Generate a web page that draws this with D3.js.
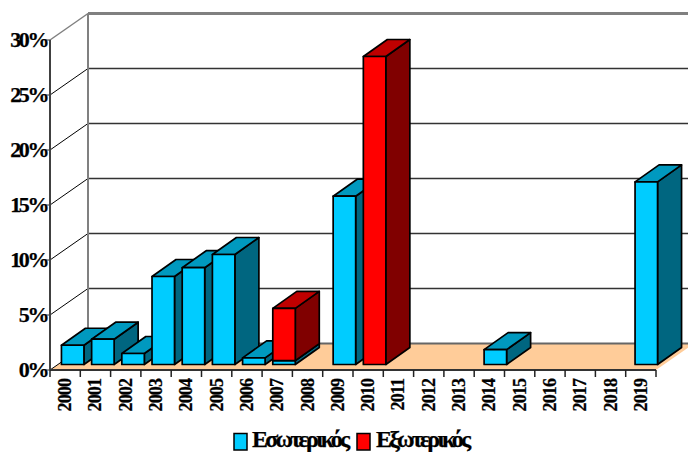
<!DOCTYPE html>
<html><head><meta charset="utf-8">
<script src="https://cdn.jsdelivr.net/npm/d3@7"></script>
<style>html,body{margin:0;padding:0;background:#fff;overflow:hidden}svg{display:block}
text{font-family:"Liberation Serif",serif;font-weight:bold;fill:#000;stroke:#000;stroke-width:.25px}</style>
</head><body><svg id="c" width="688" height="452"></svg>
<script>
const years = ["2000","2001","2002","2003","2004","2005","2006","2007","2008","2009","2010","2011","2012","2013","2014","2015","2016","2017","2018","2019"];
const interior = [1.75,2.3,1.0,8.0,8.8,10.0,0.6,0.35,0,15.3,0,0,0,0,1.35,0,0,0,0,16.6];
const exterior = [0,0,0,0,0,0,0,4.75,0,0,28.0,0,0,0,0,0,0,0,0,0];
const yTicks = [0,5,10,15,20,25,30];
const seriesNames = ["Εσωτερικός","Εξωτερικός"];
const palette = [
  {front:"#00ccff",top:"#0099bf",side:"#006680"},
  {front:"#ff0000",top:"#bf0000",side:"#800000"}
];

const svg = d3.select("#c");
const x = d3.scaleBand().domain(years).range([50,656]);
const xBars = d3.scaleBand().domain(years).range([50,653.8]);
const y = d3.scaleLinear().domain([0,30]).range([370,40]);
const DX = 38, DY = 26.5;            // wall depth
const bw = 22.5, bdx = 24, bdy = 17; // bar width and depth
const ox = 7.6, oy = 5.5;            // bar inset from the front edge
const pts = a => a.map(p=>p.join(",")).join(" ");

// floor
svg.append("polygon").attr("points",pts([[x.range()[0],y(0)],[x.range()[0]+DX,y(0)-DY],[x.range()[1]+DX,y(0)-DY],[x.range()[1],y(0)]]))
  .attr("fill","#ffcc99");

// walls + gridlines
const g = svg.append("g");
yTicks.forEach(t=>{
  const top = t===30, zero = t===0;
  g.append("line").attr("x1",50).attr("y1",y(t)).attr("x2",50+DX).attr("y2",y(t)-DY)
    .attr("stroke",top?"#808080":"#000").attr("stroke-width",top?1.5:1);
  g.append("line").attr("x1",50+DX).attr("y1",y(t)-DY).attr("x2",688).attr("y2",y(t)-DY)
    .attr("stroke",top?"#808080":(zero?"#666":"#333")).attr("stroke-width",top?3:(zero?1.8:1.3));
  g.append("line").attr("x1",45).attr("y1",y(t)).attr("x2",50).attr("y2",y(t)).attr("stroke","#333").attr("stroke-width",1);
  svg.append("text").attr("x",47).attr("y",y(t)+7).attr("text-anchor","end")
    .attr("font-size",22).attr("letter-spacing",-2.4).text(t+"%");
});
g.append("line").attr("x1",50+DX).attr("y1",y(30)-DY).attr("x2",50+DX).attr("y2",y(0)-DY).attr("stroke","#808080").attr("stroke-width",2);
g.append("line").attr("x1",50).attr("y1",y(30)).attr("x2",50).attr("y2",y(0)).attr("stroke","#404040").attr("stroke-width",2);

// bars
function box(sel,x0,yb,yt,c){
  const x1=x0+bw;
  const st={stroke:"#000","stroke-width":1.7,"stroke-linejoin":"round"};
  const add=(p,f)=>{const e=sel.append("polygon").attr("points",pts(p)).attr("fill",f);for(const k in st)e.attr(k,st[k]);};
  add([[x1,yb],[x1+bdx,yb-bdy],[x1+bdx,yt-bdy],[x1,yt]],c.side);
  add([[x0,yt],[x0+bdx,yt-bdy],[x1+bdx,yt-bdy],[x1,yt]],c.top);
  add([[x0,yb],[x1,yb],[x1,yt],[x0,yt]],c.front);
}
const bars = svg.append("g");
years.forEach((yr,i)=>{
  const x0 = xBars(yr)+(xBars.bandwidth()-bw)/2+ox;
  let acc = 0;
  [interior[i],exterior[i]].forEach((v,s)=>{
    if(v>0){
      const yb=y(acc)-oy, yt=y(acc+v)-oy;
      box(bars,x0,yb,yt,palette[s]);
      acc+=v;
    }
  });
});

// x axis
svg.append("line").attr("x1",50).attr("y1",y(0)).attr("x2",656).attr("y2",y(0)).attr("stroke","#333").attr("stroke-width",1.8);
d3.range(years.length+1).forEach(i=>{
  const tx = 50+i*x.step();
  svg.append("line").attr("x1",tx).attr("y1",y(0)).attr("x2",tx).attr("y2",y(0)+7).attr("stroke","#222").attr("stroke-width",1.5);
});
years.forEach(yr=>{
  const cx = x(yr)+x.bandwidth()/2;
  svg.append("text").attr("transform",`translate(${cx+6},379) rotate(-90)`).attr("text-anchor","end")
    .attr("font-size",18).attr("letter-spacing",-.9).text(yr);
});

// legend
const lx=[234,357], tx=[252,376], tw=[98,95];
seriesNames.forEach((n,i)=>{
  svg.append("rect").attr("x",lx[i]).attr("y",433.5).attr("width",13).attr("height",16.5)
    .attr("fill",palette[i].front).attr("stroke","#000").attr("stroke-width",1.5);
  svg.append("text").attr("x",tx[i]).attr("y",446.5).attr("font-size",24)
    .attr("textLength",tw[i]).attr("lengthAdjust","spacing").text(n);
});
</script></body></html>
